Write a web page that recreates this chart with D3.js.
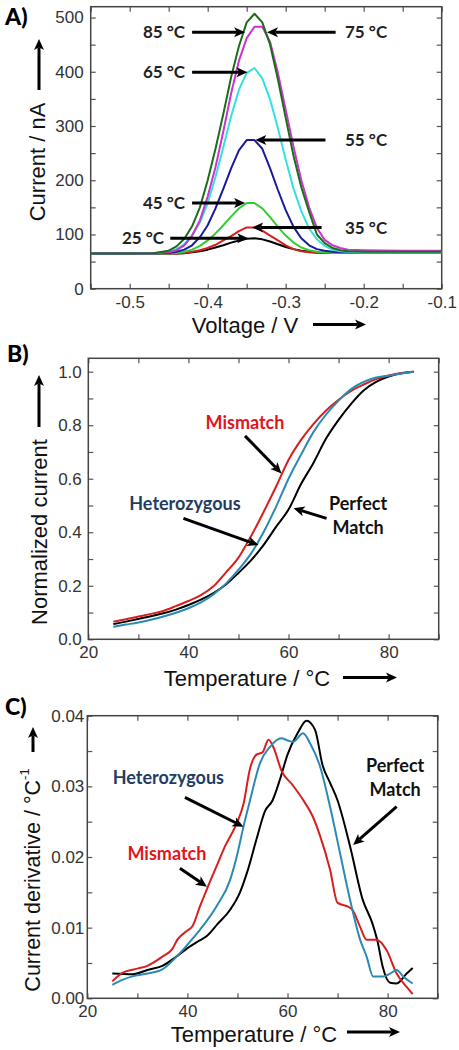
<!DOCTYPE html>
<html><head><meta charset="utf-8">
<script src="https://cdn.jsdelivr.net/npm/d3@7"></script>
<style>html,body{margin:0;padding:0;background:#fff;}svg{display:block;}</style>
</head><body>
<svg id="c" width="459" height="1050"></svg>
<script>
// ---------- Panel A data ----------
const voltA = [-0.55,-0.50,-0.47,-0.45,-0.44,-0.43,-0.42,-0.41,-0.40,-0.39,-0.38,-0.37,-0.36,-0.35,-0.34,-0.33,-0.32,-0.31,-0.30,-0.29,-0.28,-0.27,-0.26,-0.25,-0.24,-0.23,-0.22,-0.20,-0.15,-0.10];
const cur25 = [65,65,65,65,65,65.5,67,69,72,76,80,85,89,92,93,91,87,82,77,73,70,68,67,66,66,66,66,66,66,66];
const cur35 = [65,65,65,65,65,66,68,71,75,81,89,97,106,113,113,107,98,89,80,73,69,67,66,66,66,66,66,66,66,66];
const cur45 = [65,65,65,65,66,68,72,79,89,102,117,133,148,158,158,148,132,114,98,85,76,71,68,67,66,66,66,66,66,66];
const cur55 = [65,65,65,66,68,72,80,95,117,148,184,222,255,274,274,258,222,182,145,114,93,80,73,70,68,67,67,67,67,67];
const cur65 = [65,65,65,69,73,82,98,122,158,206,261,318,367,398,407,388,349,296,238,185,143,111,91,79,72,69,68,67,67,67];
const cur75 = [65,65,65,67,71,80,98,126,170,224,290,360,420,462,483,483,455,398,330,262,200,150,112,90,80,75,72,71,70,70];
const cur85 = [65,65,65.5,70,78,92,115,150,200,258,322,390,447,491,507,491,450,386,315,245,187,142,100,84,75,71,69,68,68,68];
const seriesA = ["25 °C","35 °C","45 °C","55 °C","65 °C","75 °C","85 °C"];
const colorsA = ["#000000","#d42020","#33cc33","#1a1a9e","#33e0e0","#cc33cc","#1a6e1a"];
const ticksAX = [-0.5,-0.4,-0.3,-0.2,-0.1];
const labelsAX = ["-0.5","-0.4","-0.3","-0.2","-0.1"];
const ticksAY = [0,100,200,300,400,500];
const labelsAY = ["0","100","200","300","400","500"];

// ---------- Panel B data ----------
const tempB = [25,27.5,30,32.5,35,37.5,40,42.5,45,47.5,50,52.5,55,57.5,60,62.5,65,67.5,70,72.5,75,77.5,80,82.5,85];
const normMismatch = [0.066,0.075,0.085,0.095,0.106,0.124,0.143,0.165,0.198,0.250,0.305,0.385,0.475,0.570,0.670,0.745,0.805,0.855,0.895,0.928,0.952,0.972,0.986,0.995,1.0];
const normHetero   = [0.047,0.055,0.063,0.073,0.085,0.099,0.116,0.138,0.168,0.208,0.260,0.320,0.400,0.495,0.600,0.690,0.775,0.840,0.892,0.935,0.962,0.978,0.985,0.993,1.0];
const normPerfect  = [0.057,0.066,0.076,0.086,0.097,0.111,0.128,0.148,0.173,0.205,0.248,0.295,0.352,0.420,0.485,0.580,0.660,0.750,0.820,0.880,0.930,0.962,0.982,0.994,1.0];
const ticksBX = [20,40,60,80];
const labelsBX = ["20","40","60","80"];
const ticksBY = [0,0.2,0.4,0.6,0.8,1.0];
const labelsBY = ["0.0","0.2","0.4","0.6","0.8","1.0"];

// ---------- Panel C data ----------
const tempCPerfect = [25,29,32,35,38,40,42,44,46,48.5,50.5,52,53.8,55.5,57,58.5,60,62,63.8,65.5,67,68.5,70,72.5,75,77,78,79,80.5,81.8,83.8,85];
const derivPerfect = [0.0035,0.0034,0.0040,0.0046,0.0060,0.0071,0.0080,0.0089,0.0105,0.0125,0.0150,0.0180,0.0225,0.0265,0.0280,0.0310,0.0345,0.0375,0.0393,0.0380,0.0330,0.0305,0.0280,0.0215,0.0140,0.0105,0.0080,0.0045,0.0022,0.0021,0.0035,0.0043];
const tempCMismatch = [25,27,30,32,35,37,38,40,41,42.5,44.2,46,47.5,50,51.2,52.5,53.8,55,56.2,57.2,58.8,61,63,65,66.5,68.5,70,72,73,74.5,75.8,77.8,79.8,81.8,83.8,85];
const derivMismatch = [0.0024,0.0036,0.0042,0.0046,0.0059,0.0070,0.0083,0.0096,0.0102,0.0130,0.0160,0.0190,0.0215,0.0250,0.0275,0.0325,0.0345,0.0348,0.0366,0.0355,0.0322,0.0302,0.0282,0.0258,0.0230,0.0182,0.0135,0.0130,0.0125,0.0101,0.0083,0.0083,0.0068,0.0035,0.0016,0.0006];
const tempCHetero = [25,27,29,32,35,38.5,40.5,42.5,45.8,48.5,50,51.2,52.5,54.5,56.5,58.8,60,61.1,63.1,64.5,66.5,68.5,70.5,72.5,74.5,75.8,77.1,79.1,80.5,81.8,83.1,85];
const derivHetero = [0.0019,0.0026,0.0031,0.0035,0.0041,0.0064,0.0080,0.0097,0.0130,0.0167,0.0205,0.0243,0.0280,0.0333,0.0356,0.0368,0.0365,0.0363,0.0375,0.0361,0.0328,0.0271,0.0205,0.0139,0.0083,0.0059,0.0031,0.0031,0.0035,0.0040,0.0031,0.0021];
const ticksCX = [20,40,60,80];
const labelsCX = ["20","40","60","80"];
const ticksCY = [0,0.01,0.02,0.03,0.04];
const labelsCY = ["0.00","0.01","0.02","0.03","0.04"];

const RED = "#d81e1e", TEAL = "#2a8ab5", BLK = "#000";
const AXF = "'Liberation Sans', Arial, sans-serif";
const ANF = "Lato, 'Open Sans', sans-serif";

const svg = d3.select("#c");
svg.append("rect").attr("width",459).attr("height",1050).attr("fill","#fff");

function panel(c) {
  const x = d3.scaleLinear().domain(c.xd).range([c.l, c.r]);
  const y = d3.scaleLinear().domain(c.yd).range([c.b, c.t]);
  const g = svg.append("g");
  const style = sel => { sel.select(".domain").remove(); sel.selectAll("line").attr("stroke","#555").attr("stroke-width",1.2);
    sel.selectAll("text").attr("font-family",AXF).attr("font-size",17).attr("fill","#333"); };
  g.append("g").attr("transform",`translate(0,${c.b})`).call(d3.axisBottom(x).tickValues(c.xt).tickSize(-5).tickPadding(c.xpad).tickFormat((d,i)=>c.xl[i])).call(style);
  g.append("g").attr("transform",`translate(0,${c.b})`).call(d3.axisBottom(x).tickValues(c.xm).tickSize(-5).tickFormat("")).call(style);
  g.append("g").attr("transform",`translate(0,${c.t})`).call(d3.axisTop(x).tickValues(c.xt.concat(c.xm)).tickSize(-5).tickFormat("")).call(style);
  g.append("g").attr("transform",`translate(${c.l},0)`).call(d3.axisLeft(y).tickValues(c.yt).tickSize(-5).tickPadding(c.ypad).tickFormat((d,i)=>c.yl[i])).call(style);
  g.append("g").attr("transform",`translate(${c.l},0)`).call(d3.axisLeft(y).tickValues(c.ym).tickSize(-5).tickFormat("")).call(style);
  g.append("g").attr("transform",`translate(${c.r},0)`).call(d3.axisRight(y).tickValues(c.yt.concat(c.ym)).tickSize(-5).tickFormat("")).call(style);
  g.append("rect").attr("x",c.l).attr("y",c.t).attr("width",c.r-c.l).attr("height",c.b-c.t)
    .attr("fill","none").attr("stroke","#444").attr("stroke-width",1.5);
  const clipId = "clip"+c.id;
  svg.append("clipPath").attr("id",clipId).append("rect").attr("x",c.l).attr("y",c.t).attr("width",c.r-c.l).attr("height",c.b-c.t);
  const plot = g.append("g").attr("clip-path",`url(#${clipId})`);
  return {x,y,g,plot};
}

function arrow(g,x1,y1,x2,y2,w,hl,hw){
  w=w||3; hl=hl||11; hw=hw||5;
  const dx=x2-x1, dy=y2-y1, L=Math.hypot(dx,dy), ux=dx/L, uy=dy/L, px=-uy, py=ux;
  const bx=x2-ux*hl, by=y2-uy*hl, nx=x2-ux*hl*0.75, ny=y2-uy*hl*0.75;
  g.append("line").attr("x1",x1).attr("y1",y1).attr("x2",nx).attr("y2",ny).attr("stroke","#000").attr("stroke-width",w);
  g.append("path").attr("d",`M${x2},${y2}L${bx+px*hw},${by+py*hw}L${nx},${ny}L${bx-px*hw},${by-py*hw}Z`).attr("fill","#000");
}
function dataArrow(P,a,b,w,hl,hw){ arrow(P.g,P.x(a[0]),P.y(a[1]),P.x(b[0]),P.y(b[1]),w,hl,hw); }
function label(P,t,pos,color,anchor,size){
  P.g.append("text").attr("x",P.x(pos[0])).attr("y",P.y(pos[1])).attr("dy","0.36em")
    .attr("text-anchor",anchor||"middle").attr("font-family",ANF).attr("font-weight","bold")
    .attr("font-size",size||17).attr("fill",color).text(t);
}
function axisTitles(xt, xc, xb, ax1, ax2, ay, yt, ycx, ycy, ayx, ay1, ay2, sup, fs){
  fs = fs || 22;
  svg.append("text").attr("x",xc).attr("y",xb).attr("text-anchor","middle").attr("font-family",AXF)
    .attr("font-size",22).attr("fill","#111").text(xt);
  arrow(svg,ax1,ay,ax2,ay,3,11,5);
  const t = svg.append("text").attr("transform",`translate(${ycx},${ycy}) rotate(-90)`).attr("dy","0.36em")
    .attr("text-anchor","middle").attr("font-family",AXF).attr("font-size",fs).attr("fill","#111").text(yt);
  if(sup) t.append("tspan").attr("font-size",13).attr("dy","-0.8em").text(sup);
  arrow(svg,ayx,ay1,ayx,ay2,3,11,5);
}
function panelLetter(t,x,yb){
  svg.append("text").attr("x",x).attr("y",yb).attr("font-family",ANF).attr("font-weight","900")
    .attr("font-size",23).attr("fill","#000").text(t);
}
const line = (P,xs,ys,curve) => d3.line().x((d,i)=>P.x(xs[i])).y(d=>P.y(d)).curve(curve||d3.curveLinear)(ys);

// ---------- Panel A ----------
const PA = panel({id:"A", l:90.7, r:441.7, t:6.7, b:288.7, xd:[-0.55,-0.1], yd:[0,520],
  xt:ticksAX, xl:labelsAX, xm:[-0.55,-0.45,-0.35,-0.25,-0.15], yt:ticksAY, yl:labelsAY, ym:[50,150,250,350,450],
  xpad:7.3, ypad:7});
[cur25,cur35,cur45,cur55,cur65,cur75,cur85].forEach((s,i)=>{
  PA.plot.append("path").attr("d",line(PA,voltA,s)).attr("fill","none").attr("stroke",colorsA[i])
    .attr("stroke-width",2).attr("stroke-linejoin","round");
});
const annA = [
  {t:"85 °C", tx:-0.483, ty:473, from:[-0.420,473], to:[-0.352,473]},
  {t:"75 °C", tx:-0.224, ty:473, from:[-0.236,473], to:[-0.324,473]},
  {t:"65 °C", tx:-0.483, ty:399, from:[-0.420,399], to:[-0.349,399]},
  {t:"55 °C", tx:-0.224, ty:274, from:[-0.249,274], to:[-0.339,274]},
  {t:"45 °C", tx:-0.483, ty:158, from:[-0.420,158], to:[-0.352,158]},
  {t:"35 °C", tx:-0.224, ty:113, from:[-0.254,113], to:[-0.343,113]},
  {t:"25 °C", tx:-0.510, ty:93,  from:[-0.448,93],  to:[-0.348,93]}
];
annA.forEach(a=>{
  label(PA,a.t,[a.tx,a.ty],"#222","start",17);
  dataArrow(PA,a.from,a.to,3,11,5);
});
axisTitles("Voltage / V",245,333,313,366,324.5,"Current / nA",37,162,39,90,39);
panelLetter("A)",5,25);

// ---------- Panel B ----------
const PB = panel({id:"B", l:88.3, r:438.7, t:358.3, b:639.3, xd:[20,90], yd:[0,1.05],
  xt:ticksBX, xl:labelsBX, xm:[30,50,70,90], yt:ticksBY, yl:labelsBY, ym:[0.1,0.3,0.5,0.7,0.9],
  xpad:7, ypad:6.5});
[[normPerfect,BLK],[normMismatch,RED],[normHetero,TEAL]].forEach(([s,c])=>{
  PB.plot.append("path").attr("d",line(PB,tempB,s,d3.curveMonotoneX)).attr("fill","none").attr("stroke",c).attr("stroke-width",2);
});
label(PB,"Mismatch",[51.3,0.809],"#e0161b","middle",18);
dataArrow(PB,[51.3,0.760],[58.6,0.620],3,11,5);
label(PB,"Heterozygous",[39.3,0.508],"#1f3d64","middle",18);
dataArrow(PB,[39.0,0.452],[54.0,0.352],3,11,5);
label(PB,"Perfect",[73.9,0.508],"#111","middle",18);
label(PB,"Match",[73.9,0.419],"#111","middle",18);
dataArrow(PB,[67.6,0.452],[61.0,0.490],3,11,5);
axisTitles("Temperature / °C",247,686,343,397,677.5,"Normalized current",39,532,39,427,375);
panelLetter("B)",7,362);

// ---------- Panel C ----------
const PC = panel({id:"C", l:87.3, r:437.7, t:715.7, b:998.3, xd:[20,90], yd:[0,0.04],
  xt:ticksCX, xl:labelsCX, xm:[30,50,70,90], yt:ticksCY, yl:labelsCY, ym:[0.005,0.015,0.025,0.035],
  xpad:7, ypad:3});
[[tempCPerfect,derivPerfect,BLK],[tempCMismatch,derivMismatch,RED],[tempCHetero,derivHetero,TEAL]].forEach(([xs,s,c])=>{
  PC.plot.append("path").attr("d",line(PC,xs,s,d3.curveMonotoneX)).attr("fill","none").attr("stroke",c).attr("stroke-width",2);
});
label(PC,"Heterozygous",[36.2,0.03128],"#1f3d64","middle",18);
dataArrow(PC,[39.5,0.02845],[51.2,0.02429],3,11,5);
label(PC,"Mismatch",[35.9,0.02052],"#e0161b","middle",18);
dataArrow(PC,[38.5,0.0184],[43.9,0.0158],3,11,5);
label(PC,"Perfect",[81.5,0.0330],"#111","middle",18);
label(PC,"Match",[81.5,0.02958],"#111","middle",18);
dataArrow(PC,[81.8,0.02712],[73.1,0.02171],3,11,5);
axisTitles("Temperature / °C",254,1042,347,400,1032,"Current derivative / °C",32,880,33,752,727,"-1",21.5);
panelLetter("C)",5,715);
</script>
</body></html>
